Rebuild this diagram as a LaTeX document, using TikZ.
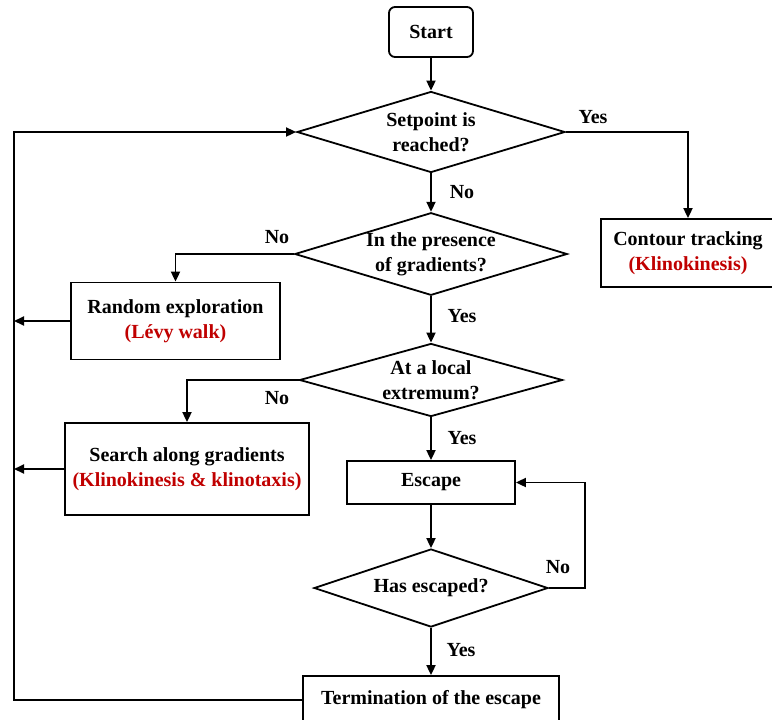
\documentclass[tikz,border=0pt]{standalone}
\usepackage{fontspec}
\setmainfont{Liberation Serif}
\usetikzlibrary{arrows.meta,positioning,calc,shapes.geometric}
\definecolor{darkred}{RGB}{192,0,0}

\begin{document}
\begin{tikzpicture}[x=0.5pt,y=-0.5pt,>={Triangle[length=5pt,width=4.5pt]},line width=0.9pt,
  font=\fontsize{10}{12.5}\selectfont\bfseries,
  box/.style={draw,inner sep=0pt,align=center},
  decision/.style={draw,diamond,aspect=3.3,inner sep=0pt,align=center},
  lbl/.style={inner sep=0pt}]
  \useasboundingbox (0,0) rectangle (772,719);
  \clip (0,0) rectangle (772,719);
  \coordinate (rail) at (14,0);
  \node[box,rounded corners=3pt,minimum width=42pt,minimum height=25pt] (start) at (431,32) {Start};
  \node[decision,minimum width=134pt,minimum height=40.5pt] (reached) at (431,132) {Setpoint is\\reached?};
  \node[decision,minimum width=134pt,minimum height=41pt] (grad) at (431,254) {In the presence\\of gradients?};
  \node[decision,minimum width=131.5pt,minimum height=36.5pt] (extr) at (431,380) {At a local\\extremum?};
  \node[box,minimum width=84pt,minimum height=21.5pt] (escape) at (431,482.5) {Escape};
  \node[decision,minimum width=117pt,minimum height=39pt] (escaped) at (431,588) {Has escaped?};
  \node[box,minimum width=128pt,minimum height=24pt] (term) at (431,700) {Termination of the escape};
  \node[box,minimum width=87pt,minimum height=34pt] (contour) at (688,253) {Contour tracking\\\textcolor{darkred}{(Klinokinesis)}};
  \node[box,minimum width=104.5pt,minimum height=38.5pt] (random) at (175.5,321) {Random exploration\\\textcolor{darkred}{(Lévy walk)}};
  \node[box,minimum width=122pt,minimum height=46pt] (search) at (187,469) {Search along gradients\\\textcolor{darkred}{(Klinokinesis \& klinotaxis)}};
  % branch labels
  \node[lbl] (yes1) at (593,117) {Yes};
  \node[lbl] (no1) at (462,192) {No};
  \node[lbl] (no2) at (277,237) {No};
  \node[lbl] (yes2) at (462,316) {Yes};
  \node[lbl] (no3) at (277,398) {No};
  \node[lbl] (yes3) at (462,438) {Yes};
  \node[lbl] (no4) at (558,567) {No};
  \node[lbl] (yes4) at (461,650) {Yes};
  % connectors
  \draw[->] (start) -- (reached);
  \draw[->] (reached.east) -| (contour.north);
  \draw[->] (reached) -- (grad);
  \draw[->] (grad.west) -| (random.north);
  \draw[->] (grad) -- (extr);
  \draw[->] (extr.west) -| (search.north);
  \draw[->] (extr) -- (escape);
  \draw[->] (escape) -- (escaped);
  \draw[->] (escaped.east) -- ++(36,0) |- (escape.east);
  \draw[->] (escaped) -- (term);
  \draw[->] (random.west) -- (random.west -| rail);
  \draw[->] (search.west) -- (search.west -| rail);
  \draw[->] (term.west) -- (term.west -| rail) |- (reached.west);
\end{tikzpicture}
\end{document}
